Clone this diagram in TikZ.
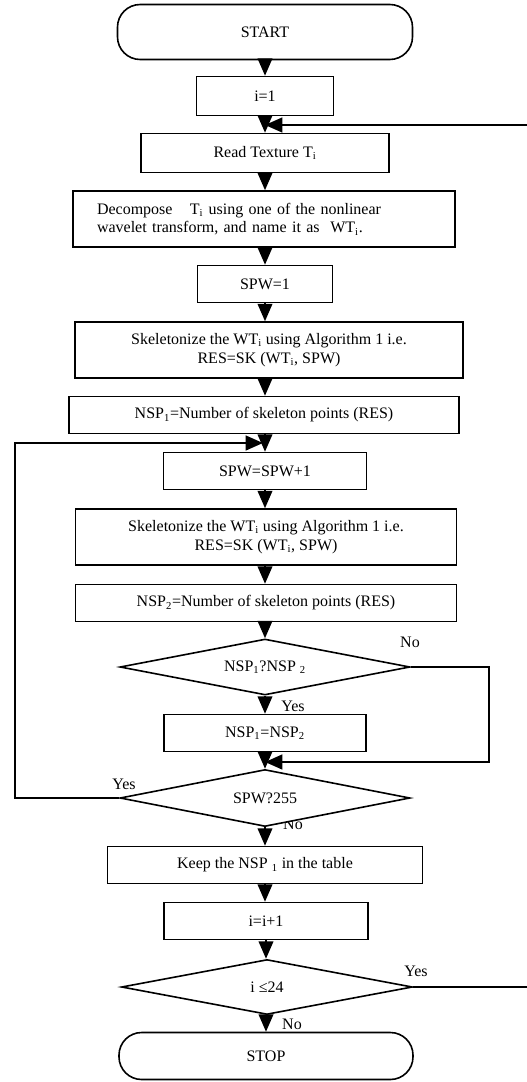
\documentclass[tikz,border=0pt]{standalone}
\usepackage{fontspec}
\setmainfont{Liberation Serif}
\usetikzlibrary{shapes.geometric,arrows.meta}
\def\px{.75pt}

\begin{document}
\begin{tikzpicture}[x=\px,y=-\px,line width=1.2pt,
  font=\fontsize{12}{14}\selectfont,
  box/.style={draw,fill=white,inner sep=0pt,minimum height=37*\px},
  term/.style={box,rounded corners=17pt},
  decision/.style={draw,fill=white,diamond,aspect=5,inner sep=0pt,minimum width=290*\px,minimum height=56*\px},
  flow/.style={-{Triangle[width=11pt,length=13pt]}},
  back/.style={flow,line width=1.8pt},
  lbl/.style={inner sep=0pt}]
\useasboundingbox (0,0) rectangle (526,1082);
\node[lbl] (noB) at (293,824) {No};
% main column
\node[term,minimum width=295*\px,minimum height=55*\px] (start) at (265,32) {START};
\node[box,minimum width=137*\px,minimum height=39*\px] (init) at (265,96) {i=1};
\node[box,minimum width=248*\px,minimum height=39*\px] (read) at (265,153) {Read Texture T\textsubscript{i}};
\node[box,minimum width=382*\px,minimum height=56*\px,text width=334*\px,inner xsep=24*\px,align=left] (decomp) at (264,219)
  {Decompose\hspace{9pt} T\textsubscript{i} using one of the nonlinear\\wavelet transform, and name it as\ \ WT\textsubscript{i}.};
\node[box,minimum width=135*\px] (spwone) at (265,284) {SPW=1};
\node[box,minimum width=388*\px,minimum height=56*\px,align=center] (skelA) at (269,350)
  {Skeletonize the WT\textsubscript{i} using Algorithm 1 i.e.\\RES=SK (WT\textsubscript{i}, SPW)};
\node[box,minimum width=390*\px] (nspA) at (264,415) {NSP\textsubscript{1}=Number of skeleton points (RES)};
\node[box,minimum width=203*\px] (spwinc) at (265,471) {SPW=SPW+1};
\node[box,minimum width=381*\px,minimum height=56*\px,align=center] (skelB) at (266,537)
  {Skeletonize the WT\textsubscript{i} using Algorithm 1\ i.e.\\RES=SK (WT\textsubscript{i}, SPW)};
\node[box,minimum width=381*\px] (nspB) at (266,603) {NSP\textsubscript{2}=Number of skeleton points (RES)};
\node[decision] (cmp) at (265,667) {NSP\textsubscript{1}?NSP \textsubscript{2}};
\node[box,minimum width=202*\px] (swap) at (265,733) {NSP\textsubscript{1}=NSP\textsubscript{2}};
\node[decision,minimum height=57*\px] (ask) at (265,798) {SPW?255};
\node[box,minimum width=315*\px] (keep) at (265,865) {Keep the NSP \textsubscript{1} in the table};
\node[box,minimum width=204*\px] (inc) at (266,921) {i=i+1};
\node[decision,minimum width=291*\px,minimum height=55*\px] (last) at (267,987) {i ≤24};
\node[term,minimum width=294*\px,minimum height=47*\px] (stop) at (266,1056) {STOP};
% joins and corners
\coordinate (joinA) at (265,125);
\coordinate (joinB) at (265,762);
\coordinate (joinC) at (263,443);
\coordinate (cornerA) at (489,667);
\coordinate (cornerB) at (489,762);
\coordinate (cornerC) at (532,987);
\coordinate (cornerD) at (532,125);
\coordinate (cornerE) at (15,798);
\coordinate (cornerF) at (15,443);
% straight flow
\draw[flow] (start.south) -- (init.north);
\draw[flow] (init.south) -- (read.north);
\draw[flow] (read.south) -- (decomp.north -| read);
\draw[flow] (decomp.south -| read) -- (spwone.north);
\draw[flow] (spwone.south) -- (skelA.north -| spwone);
\draw[flow] (skelA.south -| spwone) -- (nspA.north -| spwone);
\draw[flow] (nspA.south -| spwone) -- (spwinc.north);
\draw[flow] (spwinc.south) -- (skelB.north -| spwinc);
\draw[flow] (skelB.south -| spwinc) -- (nspB.north -| spwinc);
\draw[flow] (nspB.south -| cmp) -- (cmp.north);
\draw[flow] (cmp.south) -- (swap.north);
\draw[flow] (swap.south) -- (ask.north);
\draw[flow] (ask.south) -- (keep.north);
\draw[flow] (keep.south) -- (inc.north -| keep);
\draw[flow] (inc.south) -- (last.north -| inc);
\draw[flow] (last.south -| stop) -- (stop.north);
% loops
\draw[back] (cmp.east) -- (cornerA) -- (cornerB) -- (joinB);
\draw[back] (ask.west) -- (cornerE) -- (cornerF) -- (joinC);
\draw[back] (last.east) -- (cornerC) -- (cornerD) -- (joinA);
% labels
\node[lbl] (noA) at (410,642) {No};
\node[lbl] (yesA) at (293,706) {Yes};
\node[lbl] (yesB) at (124,784) {Yes};
\node[lbl] (yesC) at (416,971) {Yes};
\node[lbl] (noC) at (292,1024) {No};
\end{tikzpicture}
\end{document}
